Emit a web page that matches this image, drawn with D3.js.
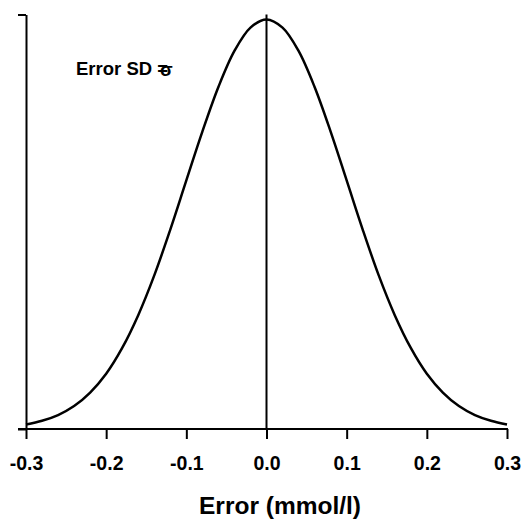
<!DOCTYPE html>
<html>
<head>
<meta charset="utf-8">
<script src="https://cdn.jsdelivr.net/npm/d3@7"></script>
<style>
  html, body { margin: 0; padding: 0; background: #fff; }
  svg { display: block; font-family: "Liberation Sans", Arial, sans-serif; }
</style>
</head>
<body>
<svg id="chart" width="527" height="521"></svg>
<script>
// Error values (mmol/l) and relative curve heights
const errorValues = [-0.30,-0.28,-0.26,-0.24,-0.22,-0.20,-0.18,-0.16,-0.14,-0.12,-0.10,-0.08,-0.06,-0.04,-0.02,0.00,
                     0.02,0.04,0.06,0.08,0.10,0.12,0.14,0.16,0.18,0.20,0.22,0.24,0.26,0.28,0.30];
const heights = [0.011,0.020,0.034,0.056,0.089,0.135,0.198,0.278,0.375,0.487,0.607,0.726,0.835,0.923,0.980,1.000,
                 0.980,0.923,0.835,0.726,0.607,0.487,0.375,0.278,0.198,0.135,0.089,0.056,0.034,0.020,0.011];
const xTicks = [-0.3,-0.2,-0.1,0.0,0.1,0.2,0.3];
const yTicks = [0, 1.012];
const xTitle = "Error (mmol/l)";
const noteText = "Error SD =σ";

const svg = d3.select("#chart");
const x = d3.scaleLinear().domain([-0.3, 0.3]).range([26, 507]);
const y = d3.scaleLinear().domain([0, 1.012]).range([429, 14.5]);

const fmt = v => d3.format(".1f")(v).replace("\u2212", "-");

// x axis
const xg = svg.append("g").attr("transform", `translate(0,${y(0)})`)
  .call(d3.axisBottom(x).tickValues(xTicks).tickSize(10).tickSizeOuter(0).tickFormat(fmt));
xg.select(".domain").attr("stroke", "#000").attr("stroke-width", 2)
  .attr("d", `M${x(-0.3) - 8},0H${x(0.3) + 1}`);
xg.selectAll(".tick line").attr("stroke", "#000").attr("stroke-width", 2);
xg.selectAll(".tick text").attr("fill", "#000").attr("y", 27)
  .attr("font-size", 19.5).attr("font-weight", "bold")
  .attr("font-family", "'Liberation Sans', Arial, sans-serif");

// y axis
const yg = svg.append("g").attr("transform", `translate(${x(-0.3)},0)`)
  .call(d3.axisLeft(y).tickValues(yTicks).tickSize(8).tickSizeOuter(0).tickFormat(""));
yg.select(".domain").attr("stroke", "#000").attr("stroke-width", 2);
yg.selectAll(".tick line").attr("stroke", "#000").attr("stroke-width", 2);

// vertical line at zero
svg.append("line")
  .attr("x1", x(0)).attr("x2", x(0))
  .attr("y1", y(1.012)).attr("y2", y(0))
  .attr("stroke", "#000").attr("stroke-width", 2);

// curve
const pts = errorValues.map((e, i) => [e, heights[i]]);
svg.append("path")
  .datum(pts)
  .attr("fill", "none")
  .attr("stroke", "#000")
  .attr("stroke-width", 2.5)
  .attr("d", d3.line().x(d => x(d[0])).y(d => y(d[1])).curve(d3.curveCatmullRom.alpha(0.5)));

// note: one text node, sigma pulled back over the "=" as in the original
const n = noteText.length;
const dxs = Array.from(noteText, (c, i) => i === n - 1 ? -8 : 0).join(" ");
const dys = Array.from(noteText, (c, i) => i === n - 1 ? 1 : 0).join(" ");
svg.append("text")
  .attr("x", 76).attr("y", 75)
  .attr("dx", dxs).attr("dy", dys)
  .attr("font-size", 18.5).attr("font-weight", "bold").attr("fill", "#000")
  .text(noteText);

// x title
svg.append("text")
  .attr("x", 280).attr("y", 514)
  .attr("text-anchor", "middle")
  .attr("font-size", 24.5).attr("font-weight", "bold").attr("fill", "#000")
  .text(xTitle);
</script>
</body>
</html>
